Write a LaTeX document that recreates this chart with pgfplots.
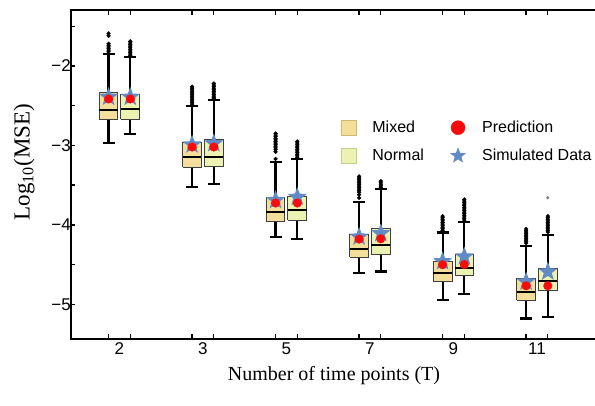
\documentclass[border=0pt]{standalone}
\usepackage{fontspec}
\setmainfont{Liberation Serif}
\setsansfont{Liberation Sans}
\usepackage{pgfplots}
\pgfplotsset{compat=1.18}

\definecolor{mixfill}{RGB}{243,222,155}
\definecolor{normfill}{RGB}{236,242,178}
\definecolor{mixedge}{RGB}{208,184,112}
\definecolor{normedge}{RGB}{200,206,140}
\definecolor{simblue}{RGB}{98,138,197}
\definecolor{predred}{RGB}{250,10,10}

% filled five-pointed star
\pgfdeclareplotmark{fstar}{%
  \pgfpathmoveto{\pgfpointpolar{90}{\pgfplotmarksize}}%
  \pgfpathlineto{\pgfpointpolar{126}{0.42*\pgfplotmarksize}}%
  \pgfpathlineto{\pgfpointpolar{162}{\pgfplotmarksize}}%
  \pgfpathlineto{\pgfpointpolar{198}{0.42*\pgfplotmarksize}}%
  \pgfpathlineto{\pgfpointpolar{234}{\pgfplotmarksize}}%
  \pgfpathlineto{\pgfpointpolar{270}{0.42*\pgfplotmarksize}}%
  \pgfpathlineto{\pgfpointpolar{306}{\pgfplotmarksize}}%
  \pgfpathlineto{\pgfpointpolar{342}{0.42*\pgfplotmarksize}}%
  \pgfpathlineto{\pgfpointpolar{18}{\pgfplotmarksize}}%
  \pgfpathlineto{\pgfpointpolar{54}{0.42*\pgfplotmarksize}}%
  \pgfpathclose\pgfusepathqfill}

\begin{document}
\begin{tikzpicture}
\begin{axis}[
  at={(71pt,66pt)}, anchor=south west,
  scale only axis, width=526pt, height=329pt,
  xmin=0.42, xmax=6.719, ymin=-5.437, ymax=-1.295,
  unbounded coords=jump,
  axis line style={line width=1.6pt},
  tick style={black, line width=1.3pt},
  tick align=inside,
  major tick length=4.5pt, minor tick length=4.5pt,
  xtick={0.87,1.13,1.87,2.13,2.87,3.13,3.87,4.13,4.87,5.13,5.87,6.13},
  xticklabels={2,,3,,5,,7,,9,,11,},
  xticklabel style={xshift=10.86pt},
  ytick={-5,-4,-3,-2}, yticklabels={−5,−4,−3,−2},
  minor ytick={-4.5,-3.5,-2.5,-1.5},
  ytick pos=left,
  tick label style={font=\sffamily\fontsize{17}{17}\selectfont},
  yticklabel style={inner sep=0pt},
  xlabel={Number of time points (T)},
  ylabel={Log\textsubscript{10}(MSE)},
  xlabel style={font=\fontsize{20}{20}\selectfont, at={(axis description cs:0.5,-0.11)}, anchor=center},
  ylabel style={font=\fontsize{23}{23}\selectfont, at={(axis description cs:-0.089,0.538)}, anchor=center},
  legend columns=2,
  legend cell align=left,
  legend style={draw=none, fill=none, font=\sffamily\fontsize{16}{16}\selectfont,
    at={(rel axis cs:0.508,0.675)}, anchor=north west, row sep=11pt,
    /tikz/every odd column/.append style={column sep=14pt},
    /tikz/every even column/.append style={column sep=24pt}},
]
\addlegendimage{only marks, mark=square*, mark size=7.5pt, mark options={fill=mixfill, draw=mixedge, line width=1pt}}
\addlegendentry{Mixed}
\addlegendimage{only marks, mark=*, mark size=7pt, mark options={fill=predred, draw=predred}}
\addlegendentry{Prediction}
\addlegendimage{only marks, mark=square*, mark size=7.5pt, mark options={fill=normfill, draw=normedge, line width=1pt}}
\addlegendentry{Normal}
\addlegendimage{only marks, mark=fstar, mark size=8.5pt, mark options={fill=simblue, draw=none}}
\addlegendentry{Simulated Data}

% x tick marks at the box positions (bottom and top)
\addplot[black, line width=1.3pt, forget plot] coordinates {
  (0.87,-5.437) (0.87,-5.38) (nan,nan) (1.13,-5.437) (1.13,-5.38) (nan,nan)
  (1.87,-5.437) (1.87,-5.38) (nan,nan) (2.13,-5.437) (2.13,-5.38) (nan,nan)
  (2.87,-5.437) (2.87,-5.38) (nan,nan) (3.13,-5.437) (3.13,-5.38) (nan,nan)
  (3.87,-5.437) (3.87,-5.38) (nan,nan) (4.13,-5.437) (4.13,-5.38) (nan,nan)
  (4.87,-5.437) (4.87,-5.38) (nan,nan) (5.13,-5.437) (5.13,-5.38) (nan,nan)
  (5.87,-5.437) (5.87,-5.38) (nan,nan) (6.13,-5.437) (6.13,-5.38) (nan,nan)
  (0.87,-1.295) (0.87,-1.352) (nan,nan) (1.13,-1.295) (1.13,-1.352) (nan,nan)
  (1.87,-1.295) (1.87,-1.352) (nan,nan) (2.13,-1.295) (2.13,-1.352) (nan,nan)
  (2.87,-1.295) (2.87,-1.352) (nan,nan) (3.13,-1.295) (3.13,-1.352) (nan,nan)
  (3.87,-1.295) (3.87,-1.352) (nan,nan) (4.13,-1.295) (4.13,-1.352) (nan,nan)
  (4.87,-1.295) (4.87,-1.352) (nan,nan) (5.13,-1.295) (5.13,-1.352) (nan,nan)
  (5.87,-1.295) (5.87,-1.352) (nan,nan) (6.13,-1.295) (6.13,-1.352)};

% whiskers (lower whisker to upper whisker) and caps
\addplot[black, line width=2.2pt, forget plot] coordinates {
  (0.87,-2.974) (0.87,-1.849) (nan,nan) (0.798,-2.974) (0.942,-2.974) (nan,nan) (0.798,-1.849) (0.942,-1.849) (nan,nan)
  (1.13,-2.860) (1.13,-1.887) (nan,nan) (1.058,-2.860) (1.202,-2.860) (nan,nan) (1.058,-1.887) (1.202,-1.887) (nan,nan)
  (1.87,-3.528) (1.87,-2.508) (nan,nan) (1.798,-3.528) (1.942,-3.528) (nan,nan) (1.798,-2.508) (1.942,-2.508) (nan,nan)
  (2.13,-3.482) (2.13,-2.428) (nan,nan) (2.058,-3.482) (2.202,-3.482) (nan,nan) (2.058,-2.428) (2.202,-2.428) (nan,nan)
  (2.87,-4.150) (2.87,-3.209) (nan,nan) (2.798,-4.150) (2.942,-4.150) (nan,nan) (2.798,-3.209) (2.942,-3.209) (nan,nan)
  (3.13,-4.180) (3.13,-3.175) (nan,nan) (3.058,-4.180) (3.202,-4.180) (nan,nan) (3.058,-3.175) (3.202,-3.175) (nan,nan)
  (3.87,-4.610) (3.87,-3.709) (nan,nan) (3.798,-4.610) (3.942,-4.610) (nan,nan) (3.798,-3.709) (3.942,-3.709) (nan,nan)
  (4.13,-4.586) (4.13,-3.553) (nan,nan) (4.058,-4.586) (4.202,-4.586) (nan,nan) (4.058,-3.553) (4.202,-3.553) (nan,nan)
  (4.87,-4.951) (4.87,-4.095) (nan,nan) (4.798,-4.951) (4.942,-4.951) (nan,nan) (4.798,-4.095) (4.942,-4.095) (nan,nan)
  (5.13,-4.875) (5.13,-3.969) (nan,nan) (5.058,-4.875) (5.202,-4.875) (nan,nan) (5.058,-3.969) (5.202,-3.969) (nan,nan)
  (5.87,-5.178) (5.87,-4.267) (nan,nan) (5.798,-5.178) (5.942,-5.178) (nan,nan) (5.798,-4.267) (5.942,-4.267) (nan,nan)
  (6.13,-5.157) (6.13,-4.132) (nan,nan) (6.058,-5.157) (6.202,-5.157) (nan,nan) (6.058,-4.132) (6.202,-4.132)};

% boxes: lower quartile to upper quartile, Mixed
\addplot[draw=black!75, line width=0.9pt, fill=mixfill, forget plot] coordinates {
  (0.758,-2.668) (0.982,-2.668) (0.982,-2.336) (0.758,-2.336) (0.758,-2.668) (nan,nan)
  (1.758,-3.272) (1.982,-3.272) (1.982,-2.966) (1.758,-2.966) (1.758,-3.272) (nan,nan)
  (2.758,-3.961) (2.982,-3.961) (2.982,-3.658) (2.758,-3.658) (2.758,-3.961) (nan,nan)
  (3.758,-4.405) (3.982,-4.405) (3.982,-4.120) (3.758,-4.120) (3.758,-4.405) (nan,nan)
  (4.758,-4.712) (4.982,-4.712) (4.982,-4.460) (4.758,-4.460) (4.758,-4.712) (nan,nan)
  (5.758,-4.947) (5.982,-4.947) (5.982,-4.674) (5.758,-4.674) (5.758,-4.947)};
% boxes, Normal
\addplot[draw=black!75, line width=0.9pt, fill=normfill, forget plot] coordinates {
  (1.018,-2.668) (1.242,-2.668) (1.242,-2.353) (1.018,-2.353) (1.018,-2.668) (nan,nan)
  (2.018,-3.264) (2.242,-3.264) (2.242,-2.923) (2.018,-2.923) (2.018,-3.264) (nan,nan)
  (3.018,-3.940) (3.242,-3.940) (3.242,-3.646) (3.018,-3.646) (3.018,-3.940) (nan,nan)
  (4.018,-4.368) (4.242,-4.368) (4.242,-4.044) (4.018,-4.044) (4.018,-4.368) (nan,nan)
  (5.018,-4.636) (5.242,-4.636) (5.242,-4.376) (5.018,-4.376) (5.018,-4.636) (nan,nan)
  (6.018,-4.820) (6.242,-4.820) (6.242,-4.548) (6.018,-4.548) (6.018,-4.820)};
% medians
\addplot[black, line width=2pt, forget plot] coordinates {
  (0.758,-2.554) (0.982,-2.554) (nan,nan) (1.018,-2.546) (1.242,-2.546) (nan,nan)
  (1.758,-3.142) (1.982,-3.142) (nan,nan) (2.018,-3.146) (2.242,-3.146) (nan,nan)
  (2.758,-3.835) (2.982,-3.835) (nan,nan) (3.018,-3.818) (3.242,-3.818) (nan,nan)
  (3.758,-4.305) (3.982,-4.305) (nan,nan) (4.018,-4.259) (4.242,-4.259) (nan,nan)
  (4.758,-4.611) (4.982,-4.611) (nan,nan) (5.018,-4.540) (5.242,-4.540) (nan,nan)
  (5.758,-4.842) (5.982,-4.842) (nan,nan) (6.018,-4.712) (6.242,-4.712)};

% outliers
\addplot[only marks, mark=*, mark size=1.9pt, mark options={draw=black, fill=black}, forget plot] coordinates {
  (0.87,-1.59) (0.87,-1.62) (0.87,-1.72) (0.87,-1.74) (0.87,-1.76) (0.87,-1.78) (0.87,-1.80) (0.87,-1.82)
  (1.13,-1.69) (1.13,-1.71) (1.13,-1.73) (1.13,-1.75) (1.13,-1.77) (1.13,-1.79) (1.13,-1.81) (1.13,-1.83) (1.13,-1.85) (1.13,-1.87)
  (1.87,-2.26) (1.87,-2.28) (1.87,-2.30) (1.87,-2.32) (1.87,-2.34) (1.87,-2.36) (1.87,-2.38) (1.87,-2.40) (1.87,-2.42) (1.87,-2.44) (1.87,-2.46) (1.87,-2.48)
  (2.13,-2.22) (2.13,-2.24) (2.13,-2.26) (2.13,-2.28) (2.13,-2.30) (2.13,-2.32) (2.13,-2.34) (2.13,-2.36) (2.13,-2.38) (2.13,-2.40) (2.13,-2.41)
  (2.87,-2.85) (2.87,-2.87) (2.87,-2.89) (2.87,-2.91) (2.87,-2.93) (2.87,-2.95) (2.87,-2.97) (2.87,-2.99) (2.87,-3.01) (2.87,-3.03) (2.87,-3.05) (2.87,-3.08) (2.87,-3.17)
  (3.13,-2.95) (3.13,-2.97) (3.13,-2.99) (3.13,-3.01) (3.13,-3.03) (3.13,-3.05) (3.13,-3.07) (3.13,-3.09) (3.13,-3.11) (3.13,-3.13) (3.13,-3.15)
  (3.87,-3.39) (3.87,-3.41) (3.87,-3.43) (3.87,-3.45) (3.87,-3.47) (3.87,-3.49) (3.87,-3.51) (3.87,-3.53) (3.87,-3.55) (3.87,-3.57) (3.87,-3.59) (3.87,-3.62) (3.87,-3.66)
  (4.13,-3.45) (4.13,-3.47) (4.13,-3.49) (4.13,-3.51) (4.13,-3.53)
  (4.87,-3.89) (4.87,-3.91) (4.87,-3.93) (4.87,-3.95) (4.87,-3.97) (4.87,-3.99) (4.87,-4.01) (4.87,-4.03) (4.87,-4.05) (4.87,-4.07)
  (5.13,-3.68) (5.13,-3.70) (5.13,-3.72) (5.13,-3.74) (5.13,-3.76) (5.13,-3.78) (5.13,-3.80) (5.13,-3.82) (5.13,-3.84) (5.13,-3.86) (5.13,-3.88) (5.13,-3.90) (5.13,-3.92) (5.13,-3.94)
  (5.87,-4.05) (5.87,-4.07) (5.87,-4.09) (5.87,-4.11) (5.87,-4.13) (5.87,-4.15) (5.87,-4.17) (5.87,-4.19) (5.87,-4.21) (5.87,-4.23)
  (6.13,-3.89) (6.13,-3.91) (6.13,-3.93) (6.13,-3.95) (6.13,-3.97) (6.13,-3.99) (6.13,-4.01) (6.13,-4.03) (6.13,-4.05) (6.13,-4.07) (6.13,-4.09)};
\addplot[only marks, mark=*, mark size=1.4pt, mark options={draw=gray, fill=gray}, forget plot]
  coordinates {(6.13,-3.66)};

% simulated data (stars)
\addplot[only marks, mark=fstar, mark size=10pt, mark options={fill=simblue, draw=none}, forget plot]
  coordinates {(0.87,-2.39) (1.13,-2.39) (1.87,-2.99) (2.13,-2.975) (2.87,-3.69) (3.13,-3.65)
               (3.87,-4.15) (4.13,-4.107) (4.87,-4.46) (5.13,-4.40) (5.87,-4.716) (6.13,-4.59)};
% prediction (dots)
\addplot[only marks, mark=*, mark size=4.3pt, mark options={fill=predred, draw=predred}, forget plot]
  coordinates {(0.87,-2.415) (1.13,-2.415) (1.87,-3.02) (2.13,-3.02) (2.87,-3.725) (3.13,-3.725)
               (3.87,-4.179) (4.13,-4.175) (4.87,-4.502) (5.13,-4.50) (5.87,-4.767) (6.13,-4.767)};
\end{axis}
\pgfresetboundingbox
\useasboundingbox (0,0) rectangle (595pt,405pt);
\end{tikzpicture}
\end{document}
